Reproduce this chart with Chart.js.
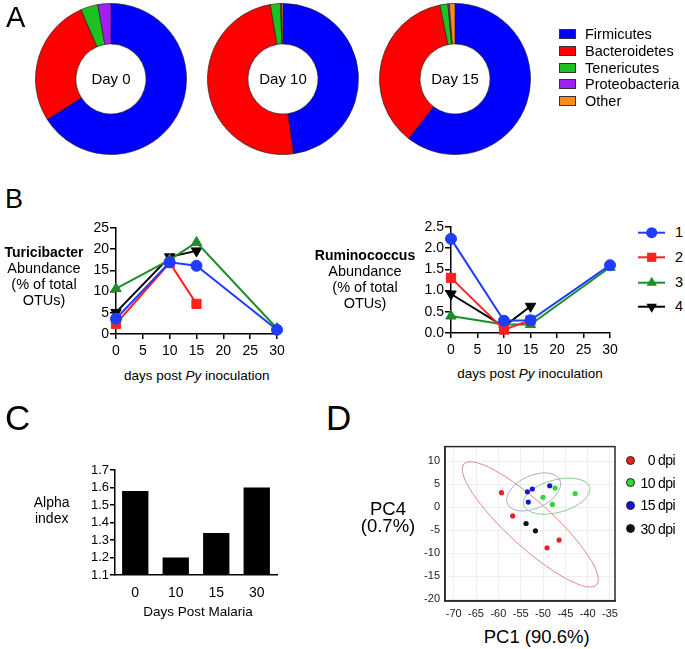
<!DOCTYPE html>
<html><head><meta charset="utf-8">
<script src="https://cdn.jsdelivr.net/npm/chart.js@4.4.0/dist/chart.umd.min.js"></script>
<style>
body{margin:0;background:#fff;}
#wrap{position:relative;width:685px;height:649px;overflow:hidden;background:#fff;font-family:"Liberation Sans",Arial,sans-serif;color:#000;}
canvas{position:absolute;}
.t{position:absolute;white-space:nowrap;}
.box{position:absolute;border:1px solid #333;box-sizing:border-box;}
.dot{position:absolute;border:1px solid #222;border-radius:50%;box-sizing:border-box;}
</style></head><body><div id="wrap"></div>
<script>
// ===== DATA =====
// Panel A: phylum composition (%)
const phyla = ['Firmicutes','Bacteroidetes','Tenericutes','Proteobacteria','Other'];
const donutLabels = ['Day 0','Day 10','Day 15'];
const day0 = [66.0, 27.5, 3.7, 2.8, 0];
const day10 = [47.8, 49.5, 2.2, 0.2, 0.3];
const day15 = [60.5, 36.3, 1.7, 0.3, 1.2];

// Panel B: abundance (% of total OTUs)
const bDays = [0, 10, 15, 30];
const bSeries = ['1','2','3','4'];
const turi1 = [3.6, 16.9, 16.1, 1.0];
const turi2 = [2.4, 16.8, 7.1, null];
const turi3 = [10.7, 17.5, 21.6, 1.3];
const turi4 = [5.1, 18.2, 19.6, null];
const rumi1 = [2.22, 0.29, 0.30, 1.60];
const rumi2 = [1.30, 0.08, 0.30, null];
const rumi3 = [0.40, 0.20, 0.20, 1.55];
const rumi4 = [0.92, 0.15, 0.63, null];
const bXTicks = [0, 5, 10, 15, 20, 25, 30];
const turiYTicks = [0, 5, 10, 15, 20, 25];
const rumiYTicks = [0, 0.5, 1.0, 1.5, 2.0, 2.5];

// Panel C: alpha index
const alphaDays = ['0','10','15','30'];
const alphaIndex = [1.58, 1.20, 1.34, 1.60];
const alphaYTicks = [1.1, 1.2, 1.3, 1.4, 1.5, 1.6, 1.7];

// Panel D: PCA
const pcaGroups = ['0 dpi','10 dpi','15 dpi','30 dpi'];
const pc1_d0 = [-59.3, -56.8, -49.1, -46.4];
const pc4_d0 = [3.2, -1.85, -8.8, -7.1];
const pc1_d10 = [-50.0, -47.3, -47.9, -42.8];
const pc4_d10 = [2.2, 4.2, 0.65, 3.0];
const pc1_d15 = [-53.5, -52.4, -53.3, -48.5];
const pc4_d15 = [3.4, 4.0, 1.15, 4.7];
const pc1_d30 = [-53.8, -51.7];
const pc4_d30 = [-3.5, -5.1];
const pcaXTicks = [-70, -65, -60, -55, -50, -45, -40, -35];
const pcaYTicks = [-20, -15, -10, -5, 0, 5, 10];
// confidence ellipses (data units): centre, semi-major vector, semi-minor length
const ellCX = [-52.85, -46.94, -52.1];
const ellCY = [-3.7, 2.44, 3.36];
const ellMajDX = [14.85, 7.39, 5.84];
const ellMajDY = [-13.13, 1.90, 2.61];
const ellMinor = [4.9, 3.55, 3.55];

// ===== STYLE =====
const FF = "'Liberation Sans', Arial, sans-serif";
Chart.defaults.font.family = FF;
Chart.defaults.color = '#000';
const phylaColors = ['#0000ff','#ff0000','#1ec21e','#a020f0','#ff8c1a'];
const bColors = ['#1f3cff','#ff2020','#1e8c2a','#000000'];
const bStyles = ['circle','rect','triangle','triangle'];
const bRot = [0,0,0,180];
const bRad = [5.5,6.5,6,6];
const pcaColors = ['#e8231f','#2fd83a','#1414d8','#111111'];
const ellColors = ['#e08a8a','#8ccc8c','#a3b0cc'];

const wrap = document.getElementById('wrap');
function T(html, x, base, fs, align, extra){
  const d = document.createElement('div'); d.className = 't'; d.innerHTML = html;
  d.style.fontSize = fs+'px'; d.style.lineHeight = fs+'px';
  d.style.top = (base - 0.8465*fs)+'px'; d.style.left = x+'px';
  if (align === 'center') d.style.transform = 'translateX(-50%)';
  if (align === 'right') d.style.transform = 'translateX(-100%)';
  if (extra) d.style.cssText += extra;
  wrap.appendChild(d); return d;
}
function CV(x,y,w,h){
  const c = document.createElement('canvas'); c.width = w; c.height = h;
  c.style.left = x+'px'; c.style.top = y+'px'; c.style.width = w+'px'; c.style.height = h+'px';
  wrap.appendChild(c); return c;
}
function fixedTicks(arr){ return function(s){ s.ticks = arr.map(v => ({value:v})); }; }
const base = {responsive:false, animation:false, devicePixelRatio:1, events:[],
  plugins:{legend:{display:false}, tooltip:{enabled:false}}};

// ===== PANEL A =====
const donutData = [day0, day10, day15];
const donutCX = [111, 283, 455];
donutData.forEach((vals, k) => {
  const c = CV(donutCX[k]-80, -1, 160, 160);
  new Chart(c, {type:'doughnut',
    data:{labels:phyla, datasets:[{data:vals, backgroundColor:phylaColors, borderColor:'#222', borderWidth:0.7}]},
    options:Object.assign({}, base, {radius:75.5, cutout:37, layout:{padding:0}})});
  T(donutLabels[k], donutCX[k], 84, 15, 'center');
});
phyla.forEach((p, i) => {
  const b = document.createElement('div'); b.className = 'box';
  b.style.left = '559px'; b.style.top = (29.3 + i*16.7)+'px';
  b.style.width = '17px'; b.style.height = '10px'; b.style.background = phylaColors[i];
  wrap.appendChild(b);
  T(p, 585, 39.5 + i*16.7, 14.5, 'left');
});
T('A', 6, 28, 29, 'left');

// ===== PANEL B =====
function gpY(min,max,tickArr,fmt,width){
  return {type:'linear', min, max, afterBuildTicks: fixedTicks(tickArr),
    ticks:{autoSkip:false, color:'#000', font:{size:14}, padding:1, callback:fmt},
    grid:{drawOnChartArea:false, drawTicks:true, tickLength:6, color:'#000', lineWidth:1.5},
    border:{display:true, color:'#000', width:1.5},
    afterFit(s){ s.width = width; }};
}
function gpX(height){
  return {type:'linear', min:0, max:30, afterBuildTicks: fixedTicks(bXTicks),
    ticks:{autoSkip:false, color:'#000', font:{size:14}, padding:4, maxRotation:0},
    grid:{drawOnChartArea:false, drawTicks:true, tickLength:5, color:'#000', lineWidth:1.5},
    border:{display:true, color:'#000', width:1.5},
    afterFit(s){ s.height = height; }};
}
function lineSets(series){
  return series.map((arr, i) => ({
    label: bSeries[i],
    data: bDays.map((d, j) => ({x:d, y:arr[j]})),
    borderColor: bColors[i], backgroundColor: bColors[i], borderWidth: 2,
    pointStyle: bStyles[i], pointRotation: bRot[i], pointRadius: bRad[i],
    pointBorderWidth: 1, pointBorderColor: bColors[i],
    spanGaps: false, clip: false, tension: 0
  }));
}
new Chart(CV(60, 215, 230, 150), {type:'line',
  data:{datasets: lineSets([turi1, turi2, turi3, turi4])},
  options:Object.assign({}, base, {layout:{padding:{left:0, right:13, top:13, bottom:0}},
    scales:{x:gpX(31), y:gpY(0, 25, turiYTicks, v => v, 56)}})});
new Chart(CV(395, 215, 230, 150), {type:'line',
  data:{datasets: lineSets([rumi1, rumi2, rumi3, rumi4])},
  options:Object.assign({}, base, {layout:{padding:{left:0, right:15, top:12, bottom:0}},
    scales:{x:gpX(32), y:gpY(0, 2.5, rumiYTicks, v => Number(v).toFixed(1), 56)}})});

// legend B
(function(){
  const c = CV(630, 220, 42, 100); const ctx = c.getContext('2d');
  const ys = [12.7, 37.3, 62.7, 86.7];
  bSeries.forEach((s, i) => {
    const y = ys[i];
    ctx.strokeStyle = bColors[i]; ctx.fillStyle = bColors[i]; ctx.lineWidth = 2;
    ctx.beginPath(); ctx.moveTo(8, y); ctx.lineTo(35, y); ctx.stroke();
    const cx = 21.7, r = bRad[i];
    ctx.beginPath();
    if (bStyles[i] === 'circle') { ctx.arc(cx, y, r, 0, Math.PI*2); }
    else if (bStyles[i] === 'rect') { const h = r*Math.SQRT1_2; ctx.rect(cx-h, y-h, 2*h, 2*h); }
    else {
      let a = bRot[i]*Math.PI/180;
      for (let k = 0; k < 3; k++) { const px = cx + Math.sin(a)*r, py = y - Math.cos(a)*r; k ? ctx.lineTo(px, py) : ctx.moveTo(px, py); a += 2*Math.PI/3; }
      ctx.closePath();
    }
    ctx.fill();
    T(s, 675, 220 + y + 4.5, 14.5, 'left');
  });
})();

T('B', 5, 209, 27, 'left');
T('<b>Turicibacter</b>', 44, 256.7, 14, 'center');
T('Abundance', 44, 273, 14.5, 'center');
T('(% of total', 44, 289, 14.5, 'center');
T('OTUs)', 44, 305, 14.5, 'center');
T('<b>Ruminococcus</b>', 365, 260, 14, 'center');
T('Abundance', 365, 276, 14.5, 'center');
T('(% of total', 365, 292.3, 14.5, 'center');
T('OTUs)', 365, 308.3, 14.5, 'center');
T('days post <i>Py</i> inoculation', 196.7, 380.5, 13.5, 'center');
T('days post <i>Py</i> inoculation', 530, 378.5, 13.5, 'center');

// ===== PANEL C =====
new Chart(CV(60, 460, 230, 150), {type:'bar',
  data:{labels:alphaDays, datasets:[{data:alphaIndex, backgroundColor:'#000', borderWidth:0,
    barPercentage:0.65, categoryPercentage:1}]},
  options:Object.assign({}, base, {layout:{padding:{left:0, right:13, top:10, bottom:0}},
    scales:{
      x:{type:'category', ticks:{autoSkip:false, color:'#000', font:{size:14}, padding:10},
        grid:{drawOnChartArea:false, drawTicks:false},
        border:{display:true, color:'#000', width:1.5}, afterFit(s){ s.height = 35; }},
      y:{type:'linear', min:1.1, max:1.7, afterBuildTicks: fixedTicks(alphaYTicks),
        ticks:{autoSkip:false, color:'#000', font:{size:13}, padding:1, callback:v => Number(v).toFixed(1)},
        grid:{drawOnChartArea:false, drawTicks:true, tickLength:5, color:'#000', lineWidth:1.5},
        border:{display:true, color:'#000', width:1.5}, afterFit(s){ s.width = 55; }}
    }})});
T('C', 5, 430, 35, 'left');
T('Alpha', 51.7, 507.3, 14, 'center');
T('index', 51.7, 523.3, 14, 'center');
T('Days Post Malaria', 198, 616, 13.5, 'center');

// ===== PANEL D =====
const ellipsePlugin = {id:'ellipses', beforeDatasetsDraw(chart){
  const {ctx, scales:{x, y}} = chart; ctx.save(); ctx.lineWidth = 1;
  ellCX.forEach((cx, i) => {
    const px = x.getPixelForValue(cx), py = y.getPixelForValue(ellCY[i]);
    const ex = x.getPixelForValue(cx + ellMajDX[i]), ey = y.getPixelForValue(ellCY[i] + ellMajDY[i]);
    const a = Math.hypot(ex-px, ey-py), ang = Math.atan2(ey-py, ex-px);
    const b = Math.abs(y.getPixelForValue(0) - y.getPixelForValue(ellMinor[i]));
    ctx.strokeStyle = ellColors[i]; ctx.beginPath(); ctx.ellipse(px, py, a, b, ang, 0, Math.PI*2); ctx.stroke();
  });
  ctx.restore();
}};
const framePlugin = {id:'frame', afterDraw(chart){
  const {ctx, chartArea:a} = chart; ctx.save(); ctx.strokeStyle = '#2a2a2a'; ctx.lineWidth = 1.5;
  ctx.strokeRect(a.left, a.top, a.right-a.left, a.bottom-a.top); ctx.restore();
}};
const pcaX = [pc1_d0, pc1_d10, pc1_d15, pc1_d30];
const pcaY = [pc4_d0, pc4_d10, pc4_d15, pc4_d30];
new Chart(CV(395, 435, 232, 190), {type:'scatter',
  data:{datasets: pcaGroups.map((g, i) => ({label:g,
    data: pcaX[i].map((v, j) => ({x:v, y:pcaY[i][j]})),
    backgroundColor: pcaColors[i], borderWidth:0, pointRadius:2.6}))},
  options:Object.assign({}, base, {layout:{padding:{left:0, right:12, top:9, bottom:0}},
    scales:{
      x:{type:'linear', min:-71.95, max:-33.88, afterBuildTicks: fixedTicks(pcaXTicks),
        ticks:{autoSkip:false, color:'#222', font:{size:11}, padding:6, maxRotation:0},
        grid:{color:'#efefef', drawTicks:false}, border:{display:true, color:'#2a2a2a', width:1.5},
        afterFit(s){ s.height = 24; }},
      y:{type:'linear', min:-20.36, max:13.22, afterBuildTicks: fixedTicks(pcaYTicks),
        ticks:{autoSkip:false, color:'#222', font:{size:11}, padding:5},
        grid:{color:'#efefef', drawTicks:false}, border:{display:true, color:'#2a2a2a', width:1.5},
        afterFit(s){ s.width = 50; }}
    }}), plugins:[ellipsePlugin, framePlugin]});
const dLegY = [460, 482.7, 505.3, 528.7];
pcaGroups.forEach((g, i) => {
  const d = document.createElement('div'); d.className = 'dot';
  d.style.left = (630-4.5)+'px'; d.style.top = (dLegY[i]-4.5)+'px';
  d.style.width = '9px'; d.style.height = '9px'; d.style.background = pcaColors[i];
  wrap.appendChild(d);
  T(g, 675, dLegY[i] + 5, 14, 'right', 'letter-spacing:-0.6px;');
});
T('D', 326, 430, 35, 'left');
T('PC1 (90.6%)', 536.7, 643.3, 18.5, 'center');
T('PC4', 388, 516, 18.5, 'center');
T('(0.7%)', 388, 533, 18.5, 'center');
</script></body></html>
